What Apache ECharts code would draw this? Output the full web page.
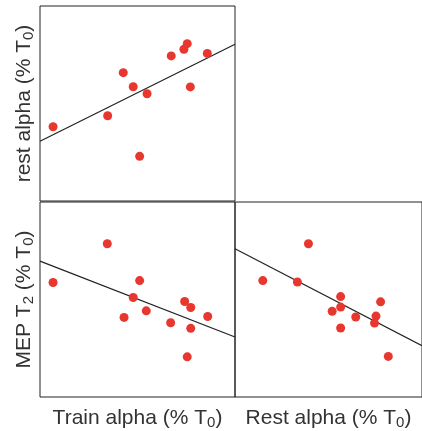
<!DOCTYPE html>
<html>
<head>
<meta charset="utf-8">
<script src="https://cdn.jsdelivr.net/npm/echarts@6/dist/echarts.min.js"></script>
<style>
  html, body { margin: 0; padding: 0; background: #fff; }
  #chart { width: 422px; height: 431px; }
</style>
</head>
<body>
<div id="chart"></div>
<script>
// Train alpha vs rest alpha (top-left panel)
const trainAlphaTop = [6.7, 34.7, 42.7, 47.8, 54.9, 51.1, 67.3, 73.8, 75.5, 85.8, 77.1];
const restAlphaTop  = [38.1, 43.7, 65.8, 58.6, 55.0, 22.9, 74.4, 77.8, 80.7, 75.7, 58.5];
const fitTopX = [0, 100];
const fitTopY = [30.6, 80.4];

// Train alpha vs MEP T2 (bottom-left panel)
const trainAlphaBottom = [6.7, 34.5, 51.1, 47.8, 43.1, 54.5, 67.0, 74.2, 77.3, 77.3, 86.0, 75.5];
const mepT2Left        = [58.7, 78.6, 59.7, 51.0, 40.8, 44.2, 38.1, 49.0, 45.9, 35.2, 41.3, 20.6];
const fitLeftX = [0, 100];
const fitLeftY = [69.7, 30.8];

// Rest alpha vs MEP T2 (bottom-right panel)
const restAlphaRight = [15.1, 33.9, 39.9, 57.4, 57.4, 52.8, 65.6, 57.4, 79.1, 76.6, 75.8, 83.3];
const mepT2Right     = [59.7, 59.0, 78.6, 51.5, 46.1, 44.0, 41.0, 35.4, 48.8, 41.5, 37.9, 20.8];
const fitRightX = [0, 101.6];
const fitRightY = [76.0, 26.3];

const zip = (a, b) => a.map((v, i) => [v, b[i]]);

const DOT = '#e8372f';
const INK = '#222';
const FONT = 'Liberation Sans, Arial, sans-serif';

const nameRich = {
  sub: { fontSize: 15, padding: [9, 0, 0, 0], color: '#333', fontFamily: FONT }
};
const nameStyle = { fontSize: 21, color: '#333', fontFamily: FONT, rich: nameRich };

function hiddenAxis(extra) {
  return Object.assign({
    type: 'value', min: 0, max: 100,
    axisLine: { show: false }, axisTick: { show: false },
    axisLabel: { show: false }, splitLine: { show: false }
  }, extra);
}

const dotStyle = { color: DOT, opacity: 1 };
const fitStyle = { color: INK, width: 1.2 };

const option = {
  animation: false,
  grid: [
    { left: 40, top: 6, width: 195, height: 195, show: true, borderColor: INK, borderWidth: 1 },
    { left: 40, top: 202, width: 195, height: 195, show: true, borderColor: INK, borderWidth: 1 },
    // right edge runs past the canvas so only the top, left and bottom borders show
    { left: 235, top: 202, width: 190, height: 195, show: true, borderColor: INK, borderWidth: 1 }
  ],
  xAxis: [
    hiddenAxis({ gridIndex: 0 }),
    hiddenAxis({ gridIndex: 1, name: 'Train alpha (% T{sub|0})', nameLocation: 'middle', nameGap: 9, nameTextStyle: nameStyle }),
    hiddenAxis({ gridIndex: 2, max: 100 * 190 / 187, name: 'Rest alpha (% T{sub|0})', nameLocation: 'middle', nameGap: 9, nameTextStyle: nameStyle })
  ],
  yAxis: [
    hiddenAxis({ gridIndex: 0, name: 'rest alpha (% T{sub|0})', nameLocation: 'middle', nameGap: 4, nameTextStyle: nameStyle }),
    hiddenAxis({ gridIndex: 1, name: 'MEP T{sub|2} (% T{sub|0})', nameLocation: 'middle', nameGap: 4, nameTextStyle: nameStyle }),
    hiddenAxis({ gridIndex: 2 })
  ],
  series: [
    { type: 'line', xAxisIndex: 0, yAxisIndex: 0, data: zip(fitTopX, fitTopY), symbol: 'none', lineStyle: fitStyle, z: 2 },
    { type: 'scatter', xAxisIndex: 0, yAxisIndex: 0, data: zip(trainAlphaTop, restAlphaTop), symbolSize: 9, itemStyle: dotStyle, z: 3 },
    { type: 'line', xAxisIndex: 1, yAxisIndex: 1, data: zip(fitLeftX, fitLeftY), symbol: 'none', lineStyle: fitStyle, z: 2 },
    { type: 'scatter', xAxisIndex: 1, yAxisIndex: 1, data: zip(trainAlphaBottom, mepT2Left), symbolSize: 9, itemStyle: dotStyle, z: 3 },
    { type: 'line', xAxisIndex: 2, yAxisIndex: 2, data: zip(fitRightX, fitRightY), symbol: 'none', lineStyle: fitStyle, z: 2 },
    { type: 'scatter', xAxisIndex: 2, yAxisIndex: 2, data: zip(restAlphaRight, mepT2Right), symbolSize: 9, itemStyle: dotStyle, z: 3 }
  ]
};

echarts.init(document.getElementById('chart'), null, { renderer: 'canvas' }).setOption(option);
</script>
</body>
</html>
